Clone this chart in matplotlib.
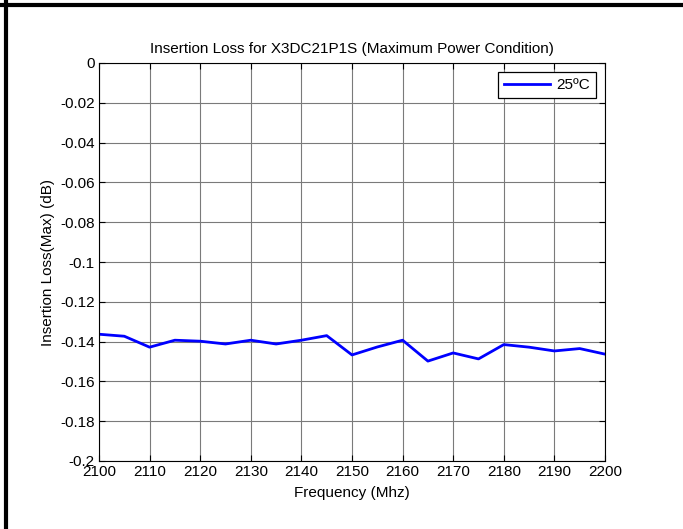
import matplotlib
matplotlib.use("Agg")
import matplotlib.pyplot as plt
from matplotlib.lines import Line2D

# data
freq_mhz = [2100, 2105, 2110, 2115, 2120, 2125, 2130, 2135, 2140, 2145, 2150,
            2155, 2160, 2165, 2170, 2175, 2180, 2185, 2190, 2195, 2200]
loss_25c = [-0.1363, -0.1373, -0.1428, -0.1393, -0.1398, -0.1412, -0.1393,
            -0.1412, -0.1393, -0.1370, -0.1467, -0.1427, -0.1393, -0.1498,
            -0.1457, -0.1487, -0.1415, -0.1428, -0.1447, -0.1435, -0.1463]
x_ticks = list(range(2100, 2201, 10))
y_ticks = [0, -0.02, -0.04, -0.06, -0.08, -0.1, -0.12, -0.14, -0.16, -0.18, -0.2]
y_tick_labels = ["0", "-0.02", "-0.04", "-0.06", "-0.08", "-0.1", "-0.12",
                 "-0.14", "-0.16", "-0.18", "-0.2"]

plt.rcParams["font.family"] = ["Liberation Sans", "DejaVu Sans"]
plt.rcParams["axes.unicode_minus"] = False

fig = plt.figure(figsize=(6.83, 5.29), dpi=100)
ax = fig.add_axes([99 / 683, 1 - 461 / 529, 506 / 683, 398 / 529])

ax.plot(freq_mhz, loss_25c, color="#0000ff", lw=2, label="25ºC")

ax.set_xlim(2100, 2200)
ax.set_ylim(-0.2, 0)
ax.set_xticks(x_ticks)
ax.set_yticks(y_ticks)
ax.set_yticklabels(y_tick_labels)
ax.grid(True, color="#7a7a7a", lw=0.8)
ax.tick_params(direction="in", length=4, width=0.8, top=True, right=True,
               labelsize=11, pad=3)
for s in ax.spines.values():
    s.set_linewidth(0.8)

ax.set_title("Insertion Loss for X3DC21P1S (Maximum Power Condition)",
             fontsize=11, pad=7)
ax.set_xlabel("Frequency (Mhz)", fontsize=11, labelpad=5)
ax.set_ylabel("Insertion Loss(Max) (dB)", fontsize=11, labelpad=4)

leg = ax.legend(loc="upper right", fontsize=11, fancybox=False,
                edgecolor="black", framealpha=1, handlelength=3.0,
                handletextpad=0.4, borderaxespad=0.6)
leg.get_frame().set_linewidth(0.9)

# outer frame lines (top and left only)
fig.add_artist(Line2D([0, 1], [1 - 5 / 529] * 2, color="black", lw=3,
                      transform=fig.transFigure))
fig.add_artist(Line2D([6 / 683] * 2, [0, 1], color="black", lw=3,
                      transform=fig.transFigure))

fig.savefig("out.png", dpi=100)
plt.close(fig)
